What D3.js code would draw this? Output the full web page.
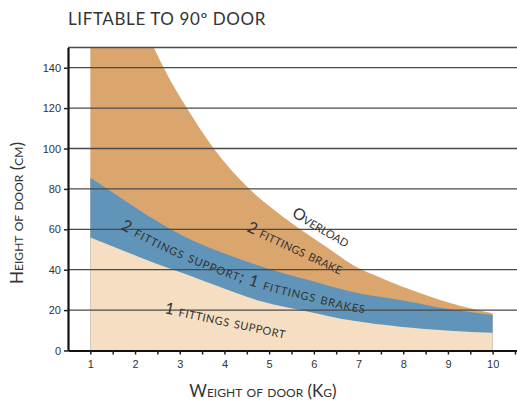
<!DOCTYPE html>
<html>
<head>
<meta charset="utf-8">
<script src="https://cdn.jsdelivr.net/npm/d3@7/dist/d3.min.js"></script>
<style>
 body { margin: 0; background: #fff; }
 svg text { font-family: Lato, "Open Sans", sans-serif; fill: #333; }
 .tick text { font-family: "Liberation Sans", Arial, sans-serif; font-size: 11px; fill: #333; }
</style>
</head>
<body>
<script>
 var width = 517, height = 404;

 // weight of door (kg) vs height of door (cm)
 var weights = [1, 1.7, 2.45, 3.19, 3.83, 4.84, 5.88, 6.85, 7.93, 9.05, 10];
 var one_support = [56, 49.8, 43.2, 37.4, 32, 24.2, 19.2, 14.8, 11.8, 9.8, 8.8];
 var two_support = [85.5, 75.3, 64.6, 55.5, 49.5, 41.5, 34.9, 29.1, 25, 20.4, 17.6];
 // overload limit, flat at the top of the chart until 2.42 kg
 var overload_weights = [2.42, 2.64, 3.16, 3.76, 4.56, 5.03, 5.6, 6.3, 6.9, 7.5, 7.93, 8.5, 9.05, 9.57, 10];
 var overload = [150, 140, 120, 100, 80, 71, 61.5, 51, 42, 36, 32, 27.5, 23.5, 20.5, 18.4];

 var x_labels = [1, 2, 3, 4, 5, 6, 7, 8, 9, 10];
 var x_ticks = [1, 1.5, 2, 2.5, 3, 3.5, 4, 4.5, 5, 5.5, 6, 6.5, 7, 7.5, 8, 8.5, 9, 9.5, 10, 10.5];
 var y_ticks = [0, 20, 40, 60, 80, 100, 120, 140];
 var grid_values = [20, 40, 60, 80, 100, 120, 140, 150];

 var orange = '#DBA66E';
 var blue = '#6095B9';
 var beige = '#F5DEC1';

 var x = d3.scaleLinear().domain([0.5, 10.545]).range([68, 517]);
 var y = d3.scaleLinear().domain([0, 150]).range([350.5, 47.5]);

 var svg = d3.select('body').append('svg')
     .attr('width', width)
     .attr('height', height);

 svg.append('text')
     .attr('x', 68)
     .attr('y', 25)
     .style('font-size', '17px')
     .style('letter-spacing', '0.6px')
     .text('LIFTABLE TO 90º DOOR');

 // overload region (everything under the limit)
 var top_line = d3.line()
     .x(function(d, i) { return x(overload_weights[i]); })
     .y(function(d) { return y(d); })
     .curve(d3.curveMonotoneX)(overload);
 svg.append('path')
     .attr('d', 'M' + x(weights[0]) + ',' + y(0) + 'V' + y(150) + 'L' + top_line.slice(1) + 'V' + y(0) + 'Z')
     .attr('fill', orange);

 var band = d3.area()
     .x(function(d, i) { return x(weights[i]); })
     .y0(y(0))
     .y1(function(d) { return y(d); })
     .curve(d3.curveMonotoneX);

 svg.append('path').attr('d', band(two_support)).attr('fill', blue);
 svg.append('path').attr('d', band(one_support)).attr('fill', beige);

 svg.selectAll('.grid')
     .data(grid_values)
     .enter()
     .append('line')
     .attr('class', 'grid')
     .attr('x1', 68).attr('x2', 517)
     .attr('y1', function(d) { return y(d); })
     .attr('y2', function(d) { return y(d); })
     .attr('stroke', '#4a4a4a')
     .attr('stroke-width', 1.3);

 var yaxis = svg.append('g')
     .attr('transform', 'translate(68,0)')
     .call(d3.axisLeft(y).tickValues(y_ticks).tickSize(4).tickSizeOuter(0).tickPadding(3));

 var xaxis = svg.append('g')
     .attr('transform', 'translate(0,' + y(0) + ')')
     .call(d3.axisBottom(x).tickValues(x_ticks).tickSize(4).tickSizeOuter(0).tickPadding(6)
           .tickFormat(function(d) { return x_labels.indexOf(d) >= 0 ? d : ''; }));

 svg.selectAll('.domain').attr('stroke', '#111').attr('stroke-width', 2.2);
 svg.selectAll('.tick line').attr('stroke', '#222').attr('stroke-width', 1.5);

 // axis titles, small caps
 svg.append('text')
     .attr('x', 263)
     .attr('y', 397)
     .attr('text-anchor', 'middle')
     .style('font-size', '17px')
     .style('font-variant', 'small-caps')
     .text('Weight of door (Kg)');

 svg.append('text')
     .attr('transform', 'translate(23,213) rotate(-90)')
     .attr('text-anchor', 'middle')
     .style('font-size', '17px')
     .style('font-variant', 'small-caps')
     .text('Height of door (cm)');

 // labels inside the chart
 var mid_line = d3.line()
     .x(function(d, i) { return x(weights[i]); })
     .y(function(d, i) { return y((d + one_support[i]) / 2); })
     .curve(d3.curveMonotoneX);

 svg.append('path')
     .attr('id', 'bandmid')
     .attr('d', mid_line(two_support))
     .attr('fill', 'none');

 svg.append('text')
     .attr('dy', '0.3em')
     .style('font-size', '16px')
     .style('font-variant', 'small-caps')
     .style('letter-spacing', '0.8px')
     .append('textPath')
     .attr('href', '#bandmid')
     .attr('startOffset', 36)
     .text('2 fittings support; 1 fittings brakes');

 svg.append('text')
     .attr('transform', 'translate(246,231) rotate(25)')
     .style('font-size', '16px')
     .style('font-variant', 'small-caps')
     .style('letter-spacing', '0.2px')
     .text('2 fittings brake');

 svg.append('text')
     .attr('transform', 'translate(291,216) rotate(30)')
     .style('font-size', '16px')
     .style('font-variant', 'small-caps')
     .text('Overload');

 svg.append('text')
     .attr('transform', 'translate(164,313) rotate(12)')
     .style('font-size', '16px')
     .style('font-variant', 'small-caps')
     .style('letter-spacing', '0.5px')
     .text('1 fittings support');
</script>
</body>
</html>
